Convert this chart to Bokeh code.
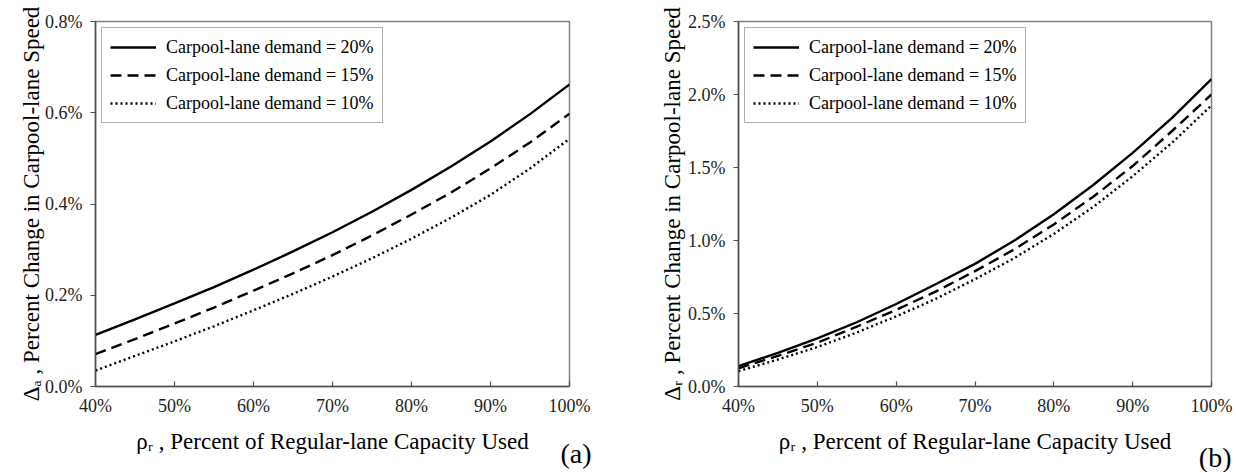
from bokeh.plotting import figure
from bokeh.layouts import row
from bokeh.models import Title, FixedTicker, NumeralTickFormatter, Range1d
from bokeh.embed import file_html
from bokeh.resources import INLINE

# ---------------- data (percent units) ----------------
capacity_used = [40, 45, 50, 55, 60, 65, 70, 75, 80, 85, 90, 95, 100]
series_labels = ["Carpool-lane demand = 20%",
                 "Carpool-lane demand = 15%",
                 "Carpool-lane demand = 10%"]

# panel (a): Delta_a, percent change in carpool-lane speed
delta_a_20 = [0.113, 0.147, 0.182, 0.218, 0.256, 0.296, 0.338, 0.383, 0.431, 0.482, 0.537, 0.597, 0.662]
delta_a_15 = [0.071, 0.104, 0.138, 0.173, 0.210, 0.248, 0.288, 0.331, 0.377, 0.425, 0.478, 0.535, 0.598]
delta_a_10 = [0.035, 0.067, 0.099, 0.132, 0.167, 0.203, 0.241, 0.281, 0.324, 0.370, 0.420, 0.478, 0.543]

# panel (b): Delta_r
delta_r_20 = [0.140, 0.230, 0.330, 0.440, 0.565, 0.700, 0.840, 1.000, 1.180, 1.380, 1.600, 1.840, 2.105]
delta_r_15 = [0.125, 0.210, 0.300, 0.410, 0.525, 0.650, 0.790, 0.940, 1.110, 1.300, 1.510, 1.750, 2.000]
delta_r_10 = [0.105, 0.185, 0.270, 0.370, 0.480, 0.600, 0.735, 0.880, 1.045, 1.230, 1.440, 1.670, 1.925]

x_ticks = [40, 50, 60, 70, 80, 90, 100]
ya_ticks = [0.0, 0.2, 0.4, 0.6, 0.8]
yr_ticks = [0.0, 0.5, 1.0, 1.5, 2.0, 2.5]

x_title = "\u03c1\u1d63 , Percent of Regular-lane Capacity Used"
ya_title = "\u0394\u2090 , Percent Change in Carpool-lane Speed"
yr_title = "\u0394\u1d63 , Percent Change in Carpool-lane Speed"

FONT = "Liberation Serif"
DASHES = ["solid", "11 6", "2 3"]


def make_panel(fig_w, fig_h, b_left, b_right, b_top, b_bottom, y_max, y_ticks,
               series, y_title, tag, tag_offset, tag_standoff, y_title_standoff):
    p = figure(width=fig_w, height=fig_h, output_backend="svg", toolbar_location=None,
               x_range=Range1d(0.40, 1.00), y_range=Range1d(0.0, y_max / 100.0),
               min_border_left=b_left, min_border_right=b_right,
               min_border_top=b_top, min_border_bottom=b_bottom)
    p.grid.visible = False
    p.outline_line_color = "#808080"
    p.outline_line_width = 1.5
    p.background_fill_color = "white"
    p.border_fill_color = "white"

    xs = [c / 100.0 for c in capacity_used]
    for vals, lbl, dash in zip(series, series_labels, DASHES):
        p.line(xs, [v / 100.0 for v in vals], line_color="black", line_width=2.4,
               line_dash=dash, legend_label=lbl)

    for ax in (p.xaxis[0], p.yaxis[0]):
        ax.axis_line_color = "#505050"
        ax.axis_line_width = 1.5
        ax.major_tick_line_color = "#505050"
        ax.major_tick_line_width = 1.2
        ax.minor_tick_line_color = None
        ax.major_label_text_font = FONT
        ax.major_label_text_font_size = "18px"
        ax.major_label_text_color = "#222222"
        ax.axis_label_text_font = FONT
        ax.axis_label_text_font_size = "23px"
        ax.axis_label_text_font_style = "normal"
        ax.axis_label_text_color = "black"
    p.xaxis.ticker = FixedTicker(ticks=[t / 100.0 for t in x_ticks])
    p.xaxis.formatter = NumeralTickFormatter(format="0%")
    p.xaxis.major_tick_in = 5
    p.xaxis.major_tick_out = 0
    p.xaxis.major_label_standoff = 9
    p.xaxis.axis_label = x_title
    p.xaxis.axis_label_standoff = 10
    p.yaxis.ticker = FixedTicker(ticks=[t / 100.0 for t in y_ticks])
    p.yaxis.formatter = NumeralTickFormatter(format="0.0%")
    p.yaxis.major_tick_in = 0
    p.yaxis.major_tick_out = 5
    p.yaxis.major_label_standoff = 8
    p.yaxis.axis_label = y_title
    p.yaxis.axis_label_standoff = y_title_standoff

    lg = p.legend[0]
    lg.location = "top_left"
    lg.margin = 6
    lg.padding = 8
    lg.spacing = 6
    lg.glyph_width = 46
    lg.glyph_height = 22
    lg.label_height = 22
    lg.label_standoff = 10
    lg.label_text_font = FONT
    lg.label_text_font_size = "18px"
    lg.label_text_color = "black"
    lg.border_line_color = "#606060"
    lg.border_line_width = 1.5
    lg.background_fill_color = "white"
    lg.background_fill_alpha = 1.0

    # panel tag "(a)" / "(b)" below the x-axis, right-aligned
    p.add_layout(Title(text=tag, align="right", vertical_align="top",
                       offset=tag_offset, standoff=tag_standoff,
                       text_font=FONT, text_font_size="28px",
                       text_font_style="normal", text_color="black"), "below")
    return p


pa = make_panel(610, 472, 95, 41, 21, 79, 0.8, ya_ticks,
                [delta_a_20, delta_a_15, delta_a_10], ya_title,
                tag="(a)", tag_offset=-22, tag_standoff=-38, y_title_standoff=-2)

pb = make_panel(626, 472, 128, 25, 19, 86, 2.5, yr_ticks,
                [delta_r_20, delta_r_15, delta_r_10], yr_title,
                tag="(b)", tag_offset=-20, tag_standoff=-30, y_title_standoff=0)

layout = row(pa, pb)
open("out.html", "w").write(file_html(layout, INLINE))
